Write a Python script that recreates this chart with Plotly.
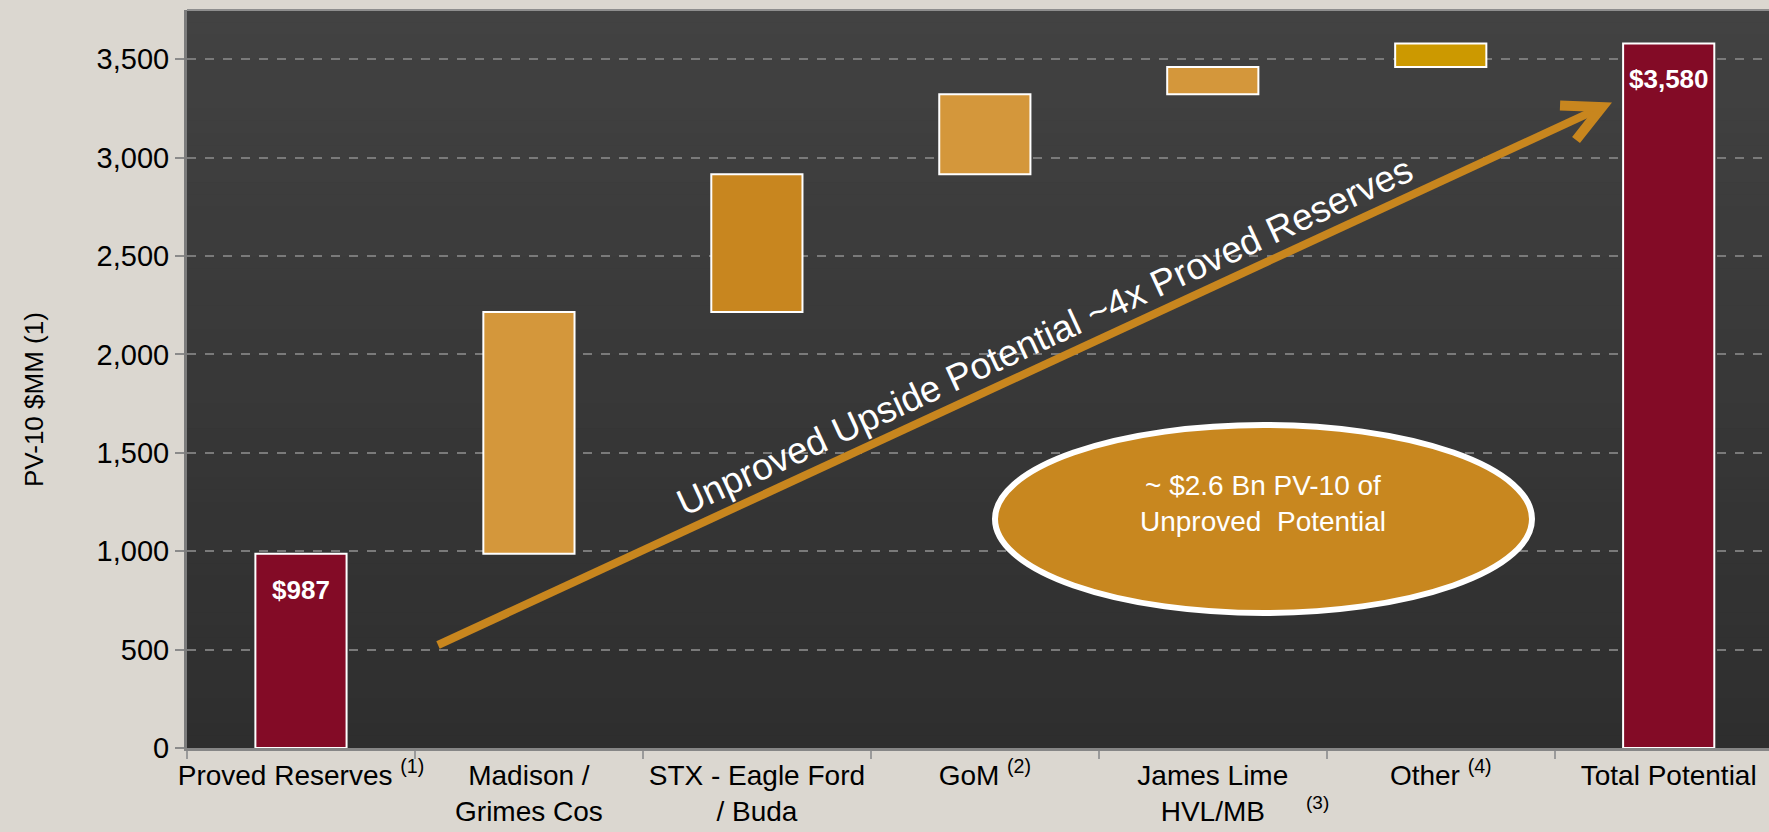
import math
import plotly.graph_objects as go

# ---------------- data ----------------
categories = [
    "Proved Reserves <sup>(1)</sup>",
    "Madison /<br>Grimes Cos",
    "STX - Eagle Ford<br>/ Buda",
    "GoM <sup>(2)</sup>",
    "James Lime<br>HVL/MB",
    "Other <sup>(4)</sup>",
    "Total Potential",
]
proved_value = 987
upside_values = [1228, 700, 407, 138, 120]   # Madison, STX, GoM, James Lime, Other
total_value = 3580
y_ticks = [0, 500, 1000, 1500, 2000, 2500, 3000, 3500]

bar_colors = ["#830B26", "#D4973B", "#C8861F", "#D4973B", "#D4973B", "#CC9900", "#830B26"]

# waterfall geometry from the data
heights = [proved_value] + upside_values + [total_value]
bases = [0]
running = proved_value
for v in upside_values:
    bases.append(running)
    running += v
bases.append(0)

# ---------------- layout constants ----------------
W, H = 1769, 832
L, R, T, B = 187, 0, 10, 84
xr = [-0.5, 6.44]
yr = [0, 3750]
pw, ph = W - L - R, H - T - B


def px2x(px):
    return xr[0] + (px - L) / pw * (xr[1] - xr[0])


def py2y(py):
    return yr[1] - (py - T) / ph * (yr[1] - yr[0])


font_main = "Liberation Sans, Arial, sans-serif"

fig = go.Figure()
fig.add_trace(go.Bar(
    x=categories, y=heights, base=bases, width=0.4,
    marker=dict(color=bar_colors, line=dict(color="white", width=2)),
    hoverinfo="skip", showlegend=False,
))

shapes = []
# gradient plot background
n_bands = 60
top_c, bot_c = 66, 46
for i in range(n_bands):
    c = round(bot_c + (top_c - bot_c) * (i + 0.5) / n_bands)
    shapes.append(dict(type="rect", xref="paper", yref="paper",
                       x0=0, x1=1, y0=i / n_bands, y1=(i + 1) / n_bands + 0.001,
                       fillcolor=f"rgb({c},{c},{c})", line=dict(width=0), layer="below"))
shapes.append(dict(type="line", xref="paper", yref="paper", x0=0, x1=1, y0=1, y1=1,
                   line=dict(color="#8e8e8e", width=2), layer="below"))

# arrow (pixel geometry converted to axis coordinates)
arrow_col = "#C8861E"
sx, sy = 438, 645
tx, ty = 1602, 107
dx, dy = tx - sx, ty - sy
dl = math.hypot(dx, dy)
ux, uy = dx / dl, dy / dl
ex, ey = tx - 5 * ux, ty - 5 * uy
shapes.append(dict(type="path", xref="x", yref="y",
                   path=f"M {px2x(sx)},{py2y(sy)} L {px2x(ex)},{py2y(ey)}",
                   line=dict(color=arrow_col, width=8), layer="above"))
arm = 42
pts = []
for ang in (27, -27):
    a = math.radians(ang)
    rx, ry = -ux, -uy
    ax_ = rx * math.cos(a) - ry * math.sin(a)
    ay_ = rx * math.sin(a) + ry * math.cos(a)
    pts.append((tx + arm * ax_, ty + arm * ay_))
shapes.append(dict(type="path", xref="x", yref="y",
                   path=(f"M {px2x(pts[0][0])},{py2y(pts[0][1])} L {px2x(tx)},{py2y(ty)} "
                         f"L {px2x(pts[1][0])},{py2y(pts[1][1])}"),
                   line=dict(color=arrow_col, width=10), layer="above"))

# ellipse
shapes.append(dict(type="circle", xref="x", yref="y",
                   x0=px2x(995), x1=px2x(1532), y0=py2y(613), y1=py2y(425),
                   fillcolor="#C8871F", line=dict(color="white", width=6), layer="above"))

annotations = []
# value labels on the proved & total bars
for i in (0, len(categories) - 1):
    annotations.append(dict(x=categories[i], y=bases[i] + heights[i], xref="x", yref="y",
                            text=f"<b>${heights[i]:,.0f}</b>", showarrow=False,
                            yanchor="middle", yshift=-36,
                            font=dict(family=font_main, size=26, color="white")))
# rotated arrow text
annotations.append(dict(x=px2x(1044), y=py2y(336), xref="x", yref="y",
                        text="Unproved Upside Potential ~4x Proved Reserves",
                        textangle=-24.8, showarrow=False,
                        xanchor="center", yanchor="middle",
                        font=dict(family=font_main, size=37, color="white")))
# ellipse text
annotations.append(dict(x=px2x(1263), y=py2y(503), xref="x", yref="y",
                        text="~ $2.6 Bn PV-10 of<br>Unproved  Potential",
                        showarrow=False, xanchor="center", yanchor="middle",
                        font=dict(family=font_main, size=28, color="white")))
# footnote (3) next to James Lime
annotations.append(dict(x=px2x(1317), y=(H - B - 802) / ph, xref="x", yref="paper",
                        text="(3)", showarrow=False, xanchor="center", yanchor="middle",
                        font=dict(family=font_main, size=19, color="black")))
# y-axis title
annotations.append(dict(x=(34 - L) / pw, y=(H - B - 400) / ph, xref="paper", yref="paper",
                        text="PV-10 $MM (1)", textangle=-90, showarrow=False,
                        xanchor="center", yanchor="middle",
                        font=dict(family=font_main, size=26, color="black")))

fig.update_layout(
    width=W, height=H,
    margin=dict(l=L, r=R, t=T, b=B, autoexpand=False),
    paper_bgcolor="#DBD7D0",
    plot_bgcolor="#383838",
    shapes=shapes,
    annotations=annotations,
    showlegend=False,
    bargap=0.6,
    xaxis=dict(
        range=xr, type="category", tickson="boundaries", tickangle=0,
        ticks="outside", ticklen=8, tickwidth=1.5, tickcolor="#9a9a9a",
        showline=True, linecolor="#868686", linewidth=3,
        showgrid=False, zeroline=False,
        tickfont=dict(family=font_main, size=28, color="black"),
        fixedrange=True,
    ),
    yaxis=dict(
        range=yr, tickvals=y_ticks, tickformat=",",
        ticks="outside", ticklen=9, tickwidth=2, tickcolor="#8a8a8a",
        showline=True, linecolor="#7c7c7c", linewidth=3,
        showgrid=True, gridcolor="#7a7a7a", gridwidth=1.5, griddash="dash",
        zeroline=False,
        tickfont=dict(family=font_main, size=29, color="black"),
        fixedrange=True,
    ),
)

fig.write_html(
    "out.html",
    config={"displayModeBar": False},
    post_script="document.body.style.margin='0';document.body.style.overflow='hidden';",
)
